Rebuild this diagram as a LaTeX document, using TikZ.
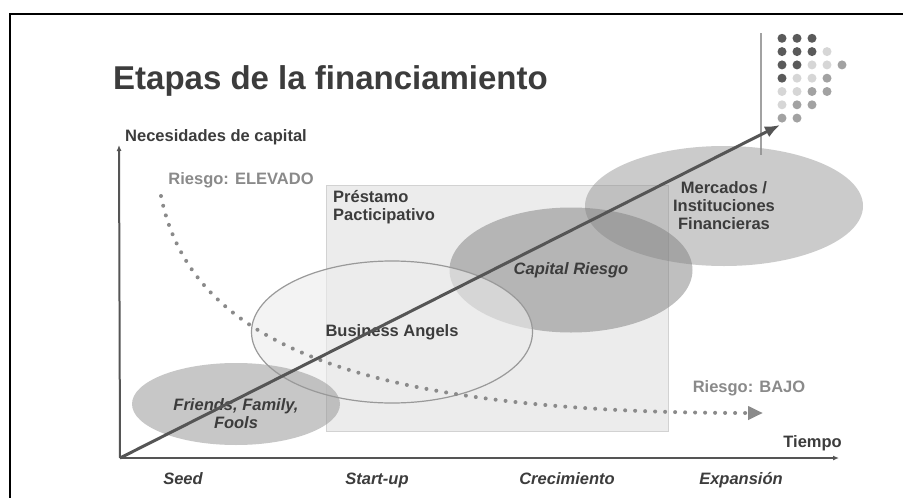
\documentclass[tikz,border=0pt]{standalone}
\usepackage{fontspec}
\setmainfont{Liberation Sans}
\usetikzlibrary{shapes.geometric, arrows.meta, positioning}
\definecolor{inkgray}{HTML}{3C3C3C}
\definecolor{axisgray}{HTML}{555555}
\definecolor{riskgray}{HTML}{8A8A8A}
\definecolor{dotd}{HTML}{5A5A5A}
\definecolor{dotm}{HTML}{A2A2A2}
\definecolor{dotl}{HTML}{D6D6D6}
\tikzset{
frame/.style={line width=2.5pt, black}, % the cut frame round the slide
axis/.style={line width=2pt, axisgray, -{Latex[length=6pt,width=5pt]}}, % both axes
growth/.style={line width=3pt, axisgray, -{Latex[length=15pt,width=12pt]}}, % the diagonal arrow
risk/.style={line width=4pt, riskgray, line cap=round, dash pattern=on 0pt off 10pt, -{Triangle[length=15pt,width=13pt]}}, % dotted risk curve
lbl/.style={text=inkgray, font=\bfseries\fontsize{16.5}{18}\selectfont, align=center, inner sep=0pt}, % plain bold labels
stage/.style={text=inkgray, font=\bfseries\itshape\fontsize{16.5}{18}\selectfont, inner sep=0pt}, % stages under the time axis
source/.style={ellipse, inner sep=0pt, text=inkgray, font=\bfseries\fontsize{16.5}{18}\selectfont, align=center}, % financing sources
}

\begin{document}
\begin{tikzpicture}[x=1pt, y=-1pt]
    \useasboundingbox (0,0) rectangle (903,498);
    \fill[white] (0,0) rectangle (903,498);

    % frame
    \draw[frame] (9,14) -- (903,14);
    \draw[frame] (10,14) -- (10,498);

    % title
    \node[anchor=base west, text=inkgray, font=\bfseries\fontsize{33}{36}\selectfont, inner sep=0pt] (title) at (113,89) {Etapas de la financiamiento};

    % decoration top right
    \draw[line width=1.5pt, dotm] (761,33) -- (761,155);
    \foreach \r/\cl in {0/{d,d,d}, 1/{d,d,d,l}, 2/{d,d,l,l,m}, 3/{d,l,l,m}, 4/{l,l,m,m}, 5/{l,m,m}, 6/{m,m}}
      \foreach \c [count=\i from 0] in \cl
        \fill[dot\c] (782+15*\i, 38.3+13.3*\r) circle (4.5);

    % participative loan box
    \node[draw=gray!35, fill=gray!15, minimum width=342pt, minimum height=246pt, inner sep=0pt, anchor=north west] (loan) at (326,185) {};
    \node[lbl, align=left, anchor=north west] (loantext) at (333,190) {Préstamo\\Pacticipativo};

    % financing sources
    \node[source, fill=black!45, fill opacity=0.45, text opacity=1, minimum width=278pt, minimum height=120pt] (markets) at (724,206) {Mercados /\\Instituciones\\Financieras};
    \node[source, fill=black!50, fill opacity=0.5, text opacity=1, font=\bfseries\itshape\fontsize{16.5}{18}\selectfont, minimum width=243pt, minimum height=125pt] (venture) at (571,270) {Capital Riesgo};
    \node[source, draw=gray!80, line width=1.2pt, fill=gray!15, fill opacity=0.6, text opacity=1, minimum width=281pt, minimum height=142pt] (angels) at (392,332) {Business Angels};
    \node[source, fill=black!40, fill opacity=0.55, minimum width=208pt, minimum height=82pt] (fff) at (236,404) {};
    \node[stage, align=center] (ffftext) at (236,414) {Friends, Family,\\Fools};

    % risk curve
    \coordinate (rhigh) at (161,196);
    \coordinate (rlow) at (763,413);
    \draw[risk] (rhigh) .. controls (190,340) and (350,413) .. (rlow);
    \node[text=riskgray, font=\bfseries\fontsize{16.5}{18}\selectfont, inner sep=0pt] (riskhigh) at (241,180) {Riesgo: ELEVADO};
    \node[text=riskgray, font=\bfseries\fontsize{16.5}{18}\selectfont, inner sep=0pt] (risklow) at (749,388) {Riesgo: BAJO};

    % axes
    \coordinate (O) at (120,458);
    \coordinate (ytop) at (119,145);
    \coordinate (xend) at (839,458);
    \coordinate (gtop) at (780,125);
    \draw[growth] (O) -- (gtop);
    \draw[axis] (O) -- (ytop);
    \draw[axis] (O) -- (xend);
    \node[lbl, anchor=base west] (ylabel) at (125,141) {Necesidades de capital};
    \node[lbl, anchor=base east] (xlabel) at (842,447) {Tiempo};

    % stages
    \node[stage, anchor=base] (seed) at (183,484) {Seed};
    \node[stage, anchor=base] (startup) at (377,484) {Start-up};
    \node[stage, anchor=base] (growthstage) at (567,484) {Crecimiento};
    \node[stage, anchor=base] (expansion) at (741,484) {Expansión};
\end{tikzpicture}
\end{document}
